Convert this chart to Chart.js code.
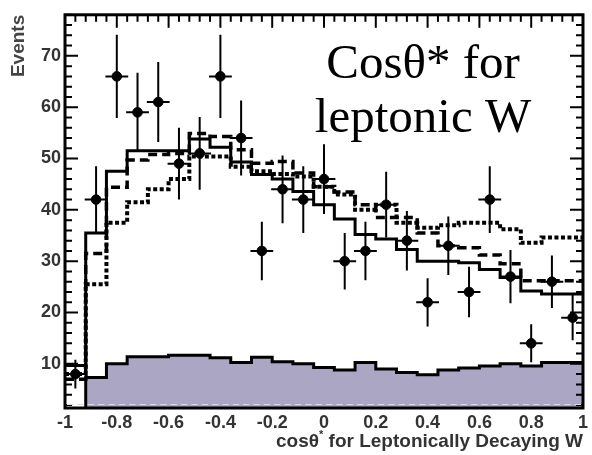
<!DOCTYPE html>
<html>
<head>
<meta charset="utf-8">
<script src="https://cdn.jsdelivr.net/npm/chart.js@4.4.0/dist/chart.umd.min.js"></script>
<style>
  html, body { margin: 0; padding: 0; background: #fff; }
  #wrap { width: 592px; height: 455px; position: relative; }
</style>
</head>
<body>
<div id="wrap"><canvas id="cosChart"></canvas></div>
<script>
// ══════════════════════════════════════════════════════════════
// DATA
// ══════════════════════════════════════════════════════════════
const binEdges   = [-1, -0.92, -0.84, -0.76, -0.68, -0.6, -0.52, -0.44, -0.36, -0.28, -0.2, -0.12, -0.04,
                    0.04, 0.12, 0.2, 0.28, 0.36, 0.44, 0.52, 0.6, 0.68, 0.76, 0.84, 0.92, 1];
const binCenters = [-0.96, -0.88, -0.8, -0.72, -0.64, -0.56, -0.48, -0.4, -0.32, -0.24, -0.16, -0.08, 0,
                    0.08, 0.16, 0.24, 0.32, 0.4, 0.48, 0.56, 0.64, 0.72, 0.8, 0.88, 0.96];

const dataEvents = [8, 42, 66, 59, 61, 49, 51, 66, 54, 32, 44, 42, 46, 30, 32, 41, 34, 22, 33, 24, 42, 27, 14, 26, 19];
const dataErr    = [2.8, 6.5, 8.1, 7.7, 7.8, 7.0, 7.1, 8.1, 7.3, 5.7, 6.6, 6.5, 6.8, 5.5, 5.7, 6.4, 5.8, 4.7, 5.7, 4.9, 6.5, 5.2, 3.7, 5.1, 4.4];

const mcSolid    = [9.7, 35.5, 47.5, 51.5, 51.5, 51.5, 53.8, 52.2, 49.3, 46.9, 46, 43.6, 41, 38.2, 35.2, 34.3, 32.3, 30, 30, 29.7, 28.4, 26.8, 24.2, 23.6, 23.6];
const mcDashed   = [7, 31.5, 44.4, 49.7, 50.8, 51, 54.9, 54.3, 51.7, 49.1, 49.4, 47.2, 44.5, 43.5, 41, 38.5, 38.5, 35.5, 33, 32.6, 31.2, 29.5, 26.2, 26.2, 26.2];
const mcDotted   = [8, 25.5, 37.5, 41.5, 44, 46, 50.4, 50.4, 48.4, 47.5, 47, 46.5, 44.5, 43, 40, 41, 37.5, 36.5, 37, 37.5, 37.5, 36.2, 33.6, 34.6, 34.6];
const background = [0, 7.35, 10, 11.4, 11.4, 11.7, 11.7, 11.2, 10.25, 11.3, 10.4, 10, 9.3, 8.8, 10.25, 9, 8.3, 7.9, 8.8, 9.2, 9.6, 10, 9.6, 10.25, 10.25];

const xTickValues = [-1, -0.8, -0.6, -0.4, -0.2, 0, 0.2, 0.4, 0.6, 0.8, 1];
const xTickLabels = ['-1', '-0.8', '-0.6', '-0.4', '-0.2', '0', '0.2', '0.4', '0.6', '0.8', '1'];
const yTickValues = [10, 20, 30, 40, 50, 60, 70];

const X_ERR = 0.044;   // half bin width of the data crosses

// histogram -> stepped points (right edge of each bin)
const stepData = (vals) => [{ x: binEdges[0], y: vals[0] }]
    .concat(vals.map((v, i) => ({ x: binEdges[i + 1], y: v })));

// ══════════════════════════════════════════════════════════════
// PLUGINS
// ══════════════════════════════════════════════════════════════
const errorBars = {
    id: 'errorBars',
    afterDatasetsDraw(chart) {
        const { ctx, scales: { x, y } } = chart;
        ctx.save();
        ctx.strokeStyle = '#000';
        ctx.lineWidth = 2;
        binCenters.forEach((c, i) => {
            const px = x.getPixelForValue(c);
            const py = y.getPixelForValue(dataEvents[i]);
            ctx.beginPath();
            ctx.moveTo(px, y.getPixelForValue(dataEvents[i] - dataErr[i]));
            ctx.lineTo(px, y.getPixelForValue(dataEvents[i] + dataErr[i]));
            ctx.moveTo(x.getPixelForValue(c - X_ERR), py);
            ctx.lineTo(x.getPixelForValue(c + X_ERR), py);
            ctx.stroke();
        });
        ctx.restore();
    }
};

// ── frame + inward ticks, ROOT style ────────────────────────────
const frameTicks = {
    id: 'frameTicks',
    afterDraw(chart) {
        const { ctx, chartArea: a, scales: { x, y } } = chart;
        ctx.save();
        ctx.strokeStyle = '#000';
        ctx.lineWidth = 2;
        for (let i = 0; i <= 50; i++) {
            const px = x.getPixelForValue(-1 + i * 0.04);
            const len = i % 5 === 0 ? 13 : 7;
            ctx.beginPath();
            ctx.moveTo(px, a.top);
            ctx.lineTo(px, a.top + len);
            ctx.stroke();
        }
        for (let v = 2; v <= 78; v += 2) {
            const py = y.getPixelForValue(v);
            const len = v % 10 === 0 ? 13 : 7;
            ctx.beginPath();
            ctx.moveTo(a.left, py);  ctx.lineTo(a.left + len, py);
            ctx.moveTo(a.right, py); ctx.lineTo(a.right - len, py);
            ctx.stroke();
        }
        // faint bottom ticks over the fill
        ctx.strokeStyle = '#dcdae8';
        ctx.lineWidth = 1;
        for (let i = 0; i < 50; i++) {
            const p0 = x.getPixelForValue(-1 + i * 0.04) + 2;
            const p1 = x.getPixelForValue(-1 + (i + 1) * 0.04) - 2;
            ctx.beginPath();
            ctx.moveTo(p0, a.bottom - 3.5);
            ctx.lineTo(p1, a.bottom - 3.5);
            ctx.stroke();
        }
        ctx.strokeStyle = '#000';
        ctx.lineWidth = 3;
        ctx.strokeRect(a.left, a.top, a.right - a.left, a.bottom - a.top);

        // ── x axis title with superscript star ──
        ctx.fillStyle = '#333';
        ctx.textBaseline = 'alphabetic';
        ctx.textAlign = 'left';
        const big = 'bold 19px "Liberation Sans", Arial, sans-serif';
        const sup = 'bold 11px "Liberation Sans", Arial, sans-serif';
        const partA = 'cosθ', partB = '*', partC = ' for Leptonically Decaying W';
        ctx.font = big;
        const wA = ctx.measureText(partA).width, wC = ctx.measureText(partC).width;
        ctx.font = sup;
        const wB = ctx.measureText(partB).width;
        let tx = a.right - (wA + wB + wC);
        const base = 447;
        ctx.font = big; ctx.fillText(partA, tx, base); tx += wA;
        ctx.font = sup; ctx.fillText(partB, tx, base - 9); tx += wB;
        ctx.font = big; ctx.fillText(partC, tx, base);

        // ── big label inside the plot ──
        ctx.fillStyle = '#000';
        ctx.textAlign = 'center';
        ctx.font = '49px "Liberation Serif", "Times New Roman", serif';
        ctx.fillText('Cosθ* for', 423, 78);
        ctx.fillText('leptonic W', 423, 132);
        ctx.restore();
    }
};

// ══════════════════════════════════════════════════════════════
// CHART
// ══════════════════════════════════════════════════════════════
const tickFont = { family: '"Liberation Sans", Arial, sans-serif', size: 18, weight: 'bold' };

const histo = (label, vals, dash, width, order) => ({
    type: 'line',
    label,
    data: stepData(vals),
    stepped: 'after',
    borderColor: '#000',
    borderWidth: width,
    borderDash: dash,
    pointRadius: 0,
    fill: false,
    order
});

new Chart(document.getElementById('cosChart'), {
    type: 'line',
    data: {
        datasets: [
            {
                type: 'scatter',
                label: 'Data',
                data: binCenters.map((c, i) => ({ x: c, y: dataEvents[i] })),
                backgroundColor: '#000',
                borderColor: '#000',
                pointRadius: 4.8,
                showLine: false,
                order: 0
            },
            histo('MC solid', mcSolid, [], 3, 1),
            histo('MC dashed', mcDashed, [9, 5], 3.5, 2),
            histo('MC dotted', mcDotted, [4, 2.5], 4, 3),
            {
                type: 'line',
                label: 'Background',
                data: stepData(background),
                stepped: 'after',
                borderColor: '#000',
                borderWidth: 3,
                backgroundColor: '#aaa6c3',
                pointRadius: 0,
                fill: 'start',
                order: 4
            }
        ]
    },
    options: {
        responsive: true,
        maintainAspectRatio: false,
        animation: false,
        layout: { padding: { top: 12, right: 7, left: 0, bottom: 0 } },
        plugins: { legend: { display: false }, tooltip: { enabled: false } },
        scales: {
            x: {
                type: 'linear',
                min: -1, max: 1,
                grid: { display: false, drawTicks: false },
                border: { display: false },
                afterBuildTicks: s => { s.ticks = xTickValues.map(v => ({ value: v })); },
                afterFit: s => { s.height = 47; },
                ticks: {
                    autoSkip: false, maxRotation: 0, padding: 4,
                    font: tickFont, color: '#333',
                    callback: (v) => xTickLabels[xTickValues.indexOf(v)] ?? ''
                }
            },
            y: {
                min: 1.4, max: 78,
                grid: { display: false, drawTicks: false },
                border: { display: false },
                afterBuildTicks: s => { s.ticks = yTickValues.map(v => ({ value: v })); },
                afterFit: s => { s.width = 65; },
                ticks: { padding: 4, font: tickFont, color: '#333' },
                title: {
                    display: true, text: 'Events', align: 'end',
                    color: '#444', padding: { top: 7, bottom: 0 },
                    font: { family: '"Liberation Sans", Arial, sans-serif', size: 19, weight: 'bold' }
                }
            }
        }
    },
    plugins: [errorBars, frameTicks]
});
</script>
</body>
</html>
